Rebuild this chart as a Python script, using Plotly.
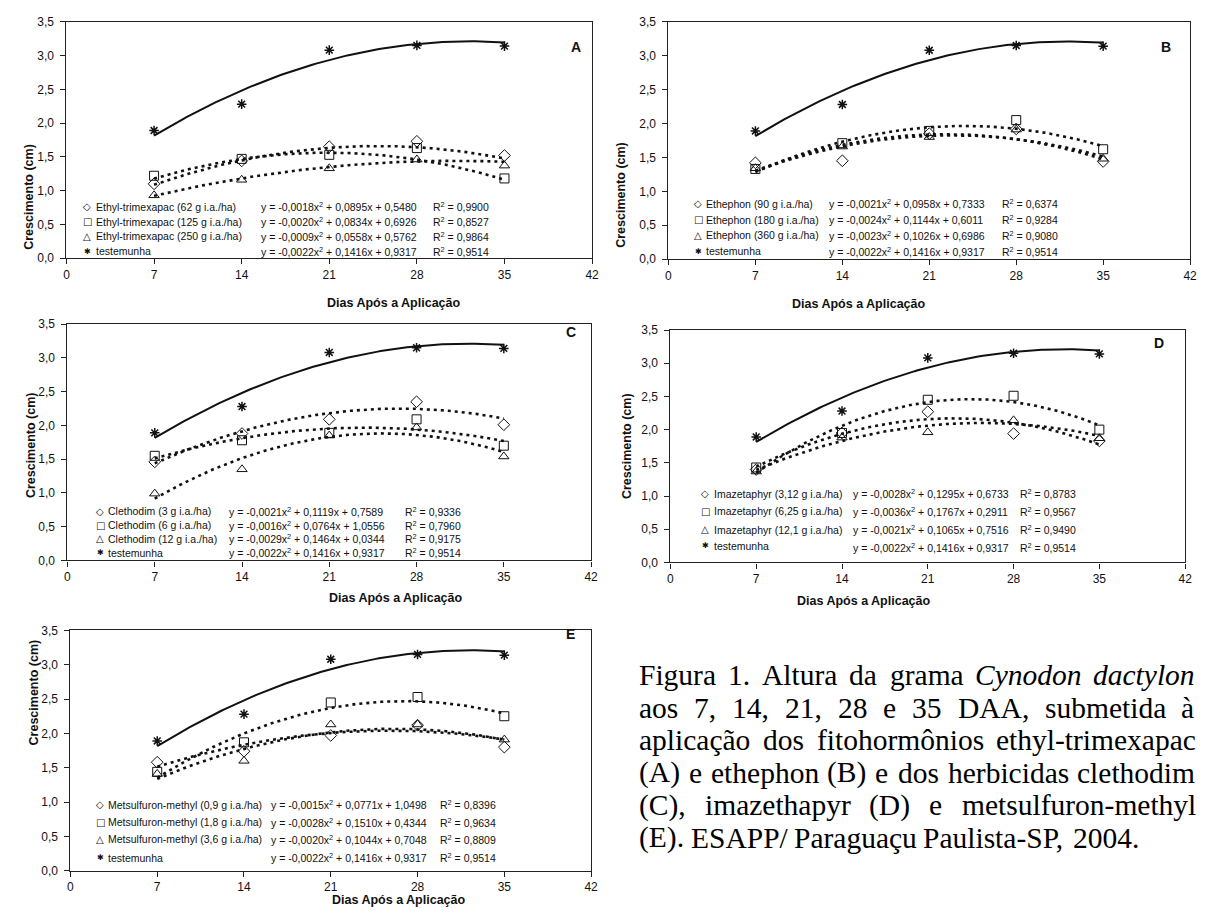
import numpy as np
import plotly.graph_objects as go

W, H = 1209, 924

# ---------------- data ----------------
dias = [7, 14, 21, 28, 35]
x_ticks = [0, 7, 14, 21, 28, 35, 42]

testemunha = [1.89, 2.28, 3.08, 3.15, 3.14]
coef_test = [-0.0022, 0.1416, 0.9317]
r2_test = 0.9514

# A - Ethyl-trimexapac
etx_62 = [1.10, 1.44, 1.65, 1.73, 1.52]
etx_125 = [1.22, 1.47, 1.53, 1.63, 1.18]
etx_250 = [0.93, 1.16, 1.33, 1.46, 1.37]
coef_etx = [[-0.0018, 0.0895, 0.5480], [-0.0020, 0.0834, 0.6926], [-0.0009, 0.0558, 0.5762]]
r2_etx = [0.9900, 0.8527, 0.9864]
lab_etx = ["Ethyl-trimexapac (62 g i.a./ha)", "Ethyl-trimexapac (125 g i.a./ha)",
           "Ethyl-trimexapac (250 g i.a./ha)"]

# B - Ethephon
eth_90 = [1.42, 1.45, 1.85, 1.92, 1.44]
eth_180 = [1.33, 1.71, 1.89, 2.05, 1.62]
eth_360 = [1.34, 1.66, 1.80, 1.91, 1.48]
coef_eth = [[-0.0021, 0.0958, 0.7333], [-0.0024, 0.1144, 0.6011], [-0.0023, 0.1026, 0.6986]]
r2_eth = [0.6374, 0.9284, 0.9080]
lab_eth = ["Ethephon (90 g i.a./ha)", "Ethephon (180 g i.a./ha)", "Ethephon (360 g i.a./ha)"]

# C - Clethodim
cle_3 = [1.46, 1.88, 2.09, 2.35, 2.01]
cle_6 = [1.55, 1.78, 1.89, 2.09, 1.70]
cle_12 = [0.99, 1.35, 1.85, 1.97, 1.54]
coef_cle = [[-0.0021, 0.1119, 0.7589], [-0.0016, 0.0764, 1.0556], [-0.0029, 0.1464, 0.0344]]
r2_cle = [0.9336, 0.7960, 0.9175]
lab_cle = ["Clethodim (3 g i.a./ha)", "Clethodim (6 g i.a./ha)", "Clethodim (12 g i.a./ha)"]

# D - Imazetaphyr
ima_312 = [1.40, 1.95, 2.27, 1.94, 1.83]
ima_625 = [1.43, 1.95, 2.45, 2.51, 2.00]
ima_121 = [1.37, 1.88, 1.96, 2.14, 1.87]
coef_ima = [[-0.0028, 0.1295, 0.6733], [-0.0036, 0.1767, 0.2911], [-0.0021, 0.1065, 0.7516]]
r2_ima = [0.8783, 0.9567, 0.9490]
lab_ima = ["Imazetaphyr (3,12 g i.a./ha)", "Imazetaphyr (6,25 g i.a./ha)", "Imazetaphyr (12,1 g i.a./ha)"]

# E - Metsulfuron-methyl
met_09 = [1.58, 1.74, 1.97, 2.12, 1.80]
met_18 = [1.44, 1.87, 2.45, 2.53, 2.25]
met_36 = [1.41, 1.60, 2.13, 2.13, 1.91]
coef_met = [[-0.0015, 0.0771, 1.0498], [-0.0028, 0.1510, 0.4344], [-0.0020, 0.1044, 0.7048]]
r2_met = [0.8396, 0.9634, 0.8809]
lab_met = ["Metsulfuron-methyl (0,9 g i.a./ha)", "Metsulfuron-methyl (1,8 g i.a./ha)",
           "Metsulfuron-methyl (3,6 g i.a./ha)"]

lab_test = "testemunha"
x_title = "Dias Após a Aplicação"
y_title = "Crescimento (cm)"

caption_lines = [
    ["Figura", "1.", "Altura", "da", "grama", "<i>Cynodon</i>", "<i>dactylon</i>"],
    ["aos", "7,", "14,", "21,", "28", "e", "35", "DAA,", "submetida", "à"],
    ["aplicação", "dos", "fitohormônios", "ethyl-trimexapac"],
    ["(A)", "e", "ethephon", "(B)", "e", "dos", "herbicidas", "clethodim"],
    ["(C),", "imazethapyr", "(D)", "e", "metsulfuron-methyl"],
    ["(E).", "ESAPP/", "Paraguaçu", "Paulista-SP,", "2004."],
]

# ---------------- layout / style ----------------
SANS = "Liberation Sans, Arial, sans-serif"
SERIF = "Liberation Serif, Times New Roman, serif"
INK = "#111111"

panels = [
    dict(letter="A", series=[etx_62, etx_125, etx_250], coef=coef_etx, r2=r2_etx, labels=lab_etx,
         box=(64, 594, 15, 255), letter_pos=(578, 30), ytitle=(17, 137), xtitle=(325, 291),
         leg=dict(sym=85, lab=92, eq=258, r2=432, rows=[203, 218, 233, 248], teq=248)),
    dict(letter="B", series=[eth_90, eth_180, eth_360], coef=coef_eth, r2=r2_eth, labels=lab_eth,
         box=(671, 1197, 15, 256), letter_pos=(1180, 30), ytitle=(623, 135), xtitle=(933, 292),
         leg=dict(sym=701, lab=707, eq=831, r2=1005, rows=[200, 216, 232, 248], teq=248)),
    dict(letter="C", series=[cle_3, cle_6, cle_12], coef=coef_cle, r2=r2_cle, labels=lab_cle,
         box=(65, 593, 322, 562), letter_pos=(573, 330), ytitle=(19, 445), xtitle=(327, 600),
         leg=dict(sym=98, lab=104, eq=226, r2=403, rows=[512, 526, 540, 554], teq=554)),
    dict(letter="D", series=[ima_312, ima_625, ima_121], coef=coef_ima, r2=r2_ima, labels=lab_ima,
         box=(673, 1192, 328, 564), letter_pos=(1173, 341), ytitle=(629, 446), xtitle=(938, 603),
         leg=dict(sym=708, lab=715, eq=855, r2=1023, rows=[494, 512, 531, 547], teq=549)),
    dict(letter="E", series=[met_09, met_18, met_36], coef=coef_met, r2=r2_met, labels=lab_met,
         box=(68, 593, 633, 877), letter_pos=(572, 647), ytitle=(22, 752), xtitle=(330, 916),
         leg=dict(sym=98, lab=104, eq=268, r2=439, rows=[810, 828, 845, 864], teq=864)),
]

symbols = ["diamond-open", "square-open", "triangle-up-open"]
leg_glyphs = ["◇", "□", "△"]
xs = np.linspace(dias[0], dias[-1], 120)


def fx(p):
    return p / W


def fy(p):
    return 1 - p / H


def num(v):
    return f"{abs(v):.4f}".replace(".", ",")


def eq_text(c):
    a, b, k = c
    sa = "-" if a < 0 else ""
    return (f"y = {sa}{num(a)}x<sup>2</sup> {'+' if b >= 0 else '-'} {num(b)}x "
            f"{'+' if k >= 0 else '-'} {num(k)}")


fig = go.Figure()
annotations = []
layout_axes = {}

for i, p in enumerate(panels, start=1):
    xa = "x" if i == 1 else f"x{i}"
    ya = "y" if i == 1 else f"y{i}"
    x0, x1, y0, y1 = p["box"]
    axis_common = dict(showgrid=False, zeroline=False, showline=True, linecolor="#222222",
                       linewidth=1.2, mirror=True, ticks="outside", ticklen=5, tickwidth=1,
                       tickcolor="#222222", tickfont=dict(family=SANS, size=12, color=INK))
    layout_axes["xaxis" if i == 1 else f"xaxis{i}"] = dict(
        domain=[fx(x0), fx(x1)], range=[0, 42], tickvals=x_ticks, anchor=ya, **axis_common)
    layout_axes["yaxis" if i == 1 else f"yaxis{i}"] = dict(
        domain=[fy(y1), fy(y0)], range=[0, 3.5], dtick=0.5, tick0=0, tickformat=".1f",
        anchor=xa, ticklabelstandoff=4, **axis_common)

    # treatment trendlines
    for s, ser in enumerate(p["series"]):
        fig.add_trace(go.Scatter(x=xs, y=np.polyval(p["coef"][s], xs), mode="lines",
                                 line=dict(color=INK, width=2.6, dash="3px,4px"),
                                 xaxis=xa, yaxis=ya, hoverinfo="skip"))
    # control trendline
    fig.add_trace(go.Scatter(x=xs, y=np.polyval(coef_test, xs), mode="lines",
                             line=dict(color=INK, width=2), xaxis=xa, yaxis=ya, hoverinfo="skip"))
    for s, ser in enumerate(p["series"]):
        fig.add_trace(go.Scatter(x=dias, y=ser, mode="markers",
                                 marker=dict(symbol=symbols[s], size=9, color=INK,
                                             line=dict(width=1, color=INK)),
                                 xaxis=xa, yaxis=ya, name=p["labels"][s]))
    fig.add_trace(go.Scatter(x=dias, y=testemunha, mode="markers",
                             marker=dict(symbol="asterisk-open", size=8, color=INK,
                                         line=dict(width=1.5, color=INK)),
                             xaxis=xa, yaxis=ya, name=lab_test))

    # panel letter
    lx, ly = p["letter_pos"]
    annotations.append(dict(x=fx(lx), y=fy(ly), xref="paper", yref="paper", text=f"<b>{p['letter']}</b>",
                            showarrow=False, font=dict(family=SANS, size=14, color=INK)))
    # axis titles
    tx, ty = p["ytitle"]
    annotations.append(dict(x=fx(tx), y=fy(ty), xref="paper", yref="paper", text=f"<b>{y_title}</b>",
                            showarrow=False, textangle=-90, font=dict(family=SANS, size=12.5, color=INK)))
    tx, ty = p["xtitle"]
    annotations.append(dict(x=fx(tx), y=fy(ty), xref="paper", yref="paper", text=f"<b>{x_title}</b>",
                            showarrow=False, font=dict(family=SANS, size=12.5, color=INK)))

    # in-plot legend with equations
    L = p["leg"]
    leg_font = dict(family=SANS, size=10.5, color=INK)
    for s in range(3):
        ry = L["rows"][s]
        annotations.append(dict(x=fx(L["sym"]), y=fy(ry), xref="paper", yref="paper", text=leg_glyphs[s],
                                showarrow=False, xanchor="center", yanchor="middle",
                                font=dict(family="DejaVu Sans", size=10, color=INK)))
        annotations.append(dict(x=fx(L["lab"]), y=fy(ry), xref="paper", yref="paper", text=p["labels"][s],
                                showarrow=False, xanchor="left", yanchor="middle", font=leg_font))
        annotations.append(dict(x=fx(L["eq"]), y=fy(ry), xref="paper", yref="paper",
                                text=eq_text(p["coef"][s]), showarrow=False, xanchor="left",
                                yanchor="middle", font=leg_font))
        annotations.append(dict(x=fx(L["r2"]), y=fy(ry), xref="paper", yref="paper",
                                text=f"R<sup>2</sup> = {p['r2'][s]:.4f}".replace(".", ","),
                                showarrow=False, xanchor="left", yanchor="middle", font=leg_font))
    ry = L["rows"][3]
    annotations.append(dict(x=fx(L["sym"]), y=fy(ry), xref="paper", yref="paper", text="✱",
                            showarrow=False, xanchor="center", yanchor="middle",
                            font=dict(family="DejaVu Sans", size=8, color=INK)))
    annotations.append(dict(x=fx(L["lab"]), y=fy(ry), xref="paper", yref="paper", text=lab_test,
                            showarrow=False, xanchor="left", yanchor="middle", font=leg_font))
    annotations.append(dict(x=fx(L["eq"]), y=fy(L["teq"]), xref="paper", yref="paper",
                            text=eq_text(coef_test), showarrow=False, xanchor="left",
                            yanchor="middle", font=leg_font))
    annotations.append(dict(x=fx(L["r2"]), y=fy(L["teq"]), xref="paper", yref="paper",
                            text=f"R<sup>2</sup> = {r2_test:.4f}".replace(".", ","),
                            showarrow=False, xanchor="left", yanchor="middle", font=leg_font))

# ---------------- justified caption ----------------
TIMES = {" ": 250, "(": 333, ")": 333, ",": 250, "-": 333, ".": 250, "/": 278,
         "A": 722, "B": 667, "C": 667, "D": 722, "E": 611, "F": 556, "P": 556, "S": 556,
         "a": 444, "b": 500, "c": 444, "d": 500, "e": 444, "f": 333, "g": 500, "h": 500,
         "i": 278, "l": 278, "m": 778, "n": 500, "o": 500, "p": 500, "r": 333, "s": 389,
         "t": 278, "u": 500, "x": 500, "y": 500, "z": 444, "à": 444, "ã": 444, "ç": 444, "ô": 500}
TIMES_I = {"C": 667, "y": 444, "n": 500, "o": 500, "d": 500, "a": 500, "c": 444, "t": 278, "l": 278}
for dgt in "0123456789":
    TIMES[dgt] = 500


def word_w(w, fs):
    if w.startswith("<i>"):
        core = w[3:-4]
        return sum(TIMES_I.get(ch, 500) for ch in core) * fs / 1000
    return sum(TIMES.get(ch, 500) for ch in w) * fs / 1000


CAP_FS = 29.5
cap_left, cap_right = 640, 1200
cap_base0, cap_step = 688, 33
for li, words in enumerate(caption_lines):
    widths = [word_w(w, CAP_FS) for w in words]
    if li < len(caption_lines) - 1:
        gap = (cap_right - cap_left - sum(widths)) / (len(words) - 1)
    else:
        gap = 0.25 * CAP_FS
    xcur = cap_left
    base = cap_base0 + li * cap_step
    for w, ww in zip(words, widths):
        annotations.append(dict(x=fx(xcur), y=fy(base - 0.32 * CAP_FS), xref="paper", yref="paper",
                                text=w, showarrow=False, xanchor="left", yanchor="middle",
                                borderpad=0, font=dict(family=SERIF, size=CAP_FS, color="black")))
        xcur += ww + gap

fig.update_layout(width=W, height=H, margin=dict(l=0, r=0, t=0, b=0), showlegend=False,
                  paper_bgcolor="white", plot_bgcolor="white", separators=", ",
                  annotations=annotations, **layout_axes)

fig.write_html("out.html", config={"displayModeBar": False},
               post_script="document.body.style.margin='0';document.body.style.overflow='hidden';")
